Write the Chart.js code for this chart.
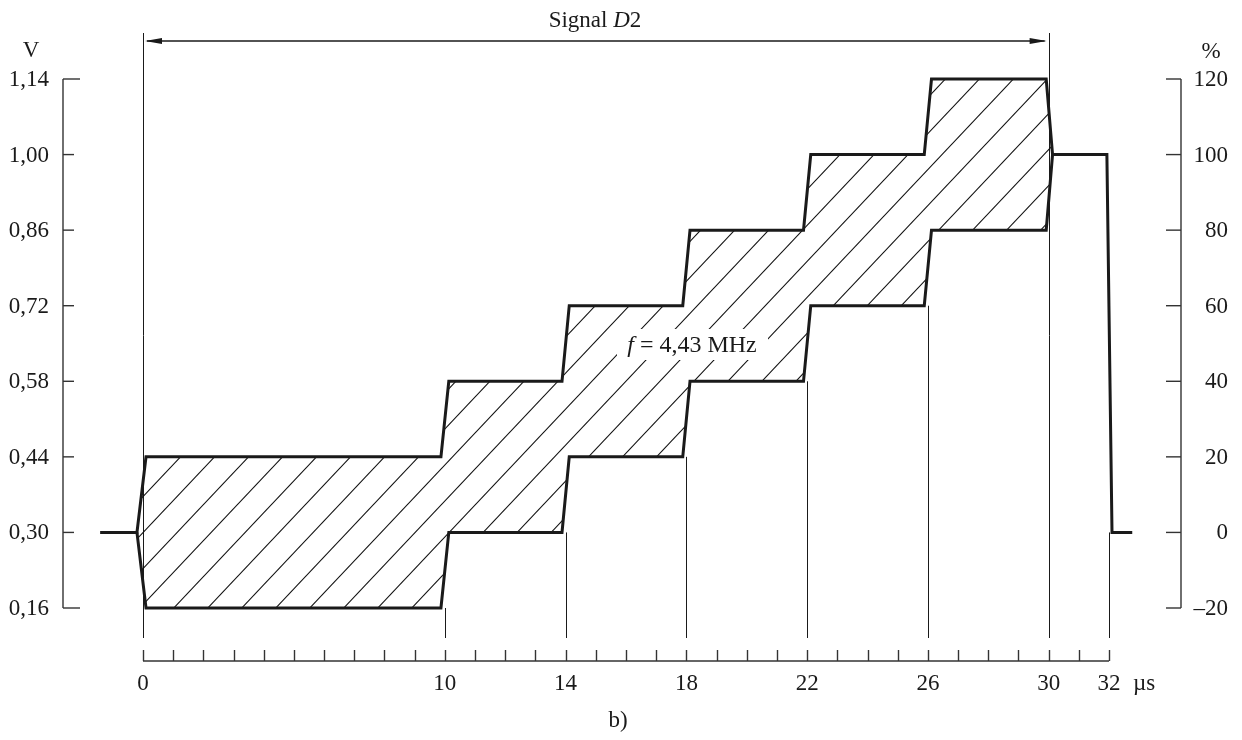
<!DOCTYPE html>
<html>
<head>
<meta charset="utf-8">
<script src="https://cdn.jsdelivr.net/npm/chart.js"></script>
<style>
  body { margin: 0; background: #fff; }
</style>
</head>
<body>
<canvas id="d2Chart" width="1242" height="740"></canvas>
<script>
// envelope of the staircase signal (time in us, level in V)
const upperT = [-1.42, -0.2, 0.1, 9.87, 10.13, 13.88, 14.12, 17.88, 18.12, 21.88, 22.12, 25.88, 26.12, 29.92, 30.13, 31.93, 32.1, 32.77];
const upperV = [0.30, 0.30, 0.44, 0.44, 0.58, 0.58, 0.72, 0.72, 0.86, 0.86, 1.00, 1.00, 1.14, 1.14, 1.00, 1.00, 0.30, 0.30];
const lowerT = [-0.2, 0.1, 9.87, 10.13, 13.88, 14.12, 17.88, 18.12, 21.88, 22.12, 25.88, 26.12, 29.92, 30.13];
const lowerV = [0.30, 0.16, 0.16, 0.30, 0.30, 0.44, 0.44, 0.58, 0.58, 0.72, 0.72, 0.86, 0.86, 1.00];

const voltTicks = [0.16, 0.30, 0.44, 0.58, 0.72, 0.86, 1.00, 1.14];
const voltLabels = ['0,16', '0,30', '0,44', '0,58', '0,72', '0,86', '1,00', '1,14'];
const pctTicks = [-20, 0, 20, 40, 60, 80, 100, 120];
const pctLabels = ['\u201320', '0', '20', '40', '60', '80', '100', '120'];
const timeLabels = [0, 10, 14, 18, 22, 26, 30, 32];
const timeEnd = 32;
const signalSpan = [0, 30];

const FONT = '"Liberation Serif", "DejaVu Serif", serif';
const INK = '#1a1a1a';

function pts(ts, vs) {
    return ts.map((t, i) => ({ x: t, y: vs[i] }));
}

// closed outline of the modulated part (upper edge, then lower edge back)
const iEnd = upperT.indexOf(lowerT[lowerT.length - 1]);
const hatchShape = pts(upperT.slice(1, iEnd + 1), upperV.slice(1, iEnd + 1))
    .concat(pts(lowerT, lowerV).reverse().slice(1));

function makeHatch() {
    const w = 34, h = 36;
    const p = document.createElement('canvas');
    p.width = w; p.height = h;
    const g = p.getContext('2d');
    g.strokeStyle = '#111';
    g.lineWidth = 1.1;
    for (const dx of [-w, 0, w]) {
        g.beginPath();
        g.moveTo(dx - w, 2 * h);
        g.lineTo(dx + 2 * w, -h);
        g.stroke();
    }
    return g.createPattern(p, 'repeat');
}

// level under a guide line: lower edge inside the signal, final level after it
function levelAt(t) {
    if (t > lowerT[lowerT.length - 1]) return upperV[upperV.length - 1];
    let v = null;
    lowerT.forEach((x, i) => { if (x <= t) v = lowerV[i]; });
    return v;
}

function richText(c, parts, cx, y, size) {
    let total = 0;
    parts.forEach(p => { c.font = p[1] + size + 'px ' + FONT; total += c.measureText(p[0]).width; });
    let tx = cx - total / 2;
    c.textAlign = 'left';
    parts.forEach(p => {
        c.font = p[1] + size + 'px ' + FONT;
        c.fillText(p[0], tx, y);
        tx += c.measureText(p[0]).width;
    });
}

const decor = {
    id: 'decor',
    beforeDatasetsDraw(chart) {
        const c = chart.ctx;
        const xs = chart.scales.x, ys = chart.scales.y;
        c.save();
        c.strokeStyle = INK;
        c.lineWidth = 1;
        const yBottom = 638;
        timeLabels.forEach(t => {
            const x = Math.round(xs.getPixelForValue(t)) + 0.5;
            const yTop = signalSpan.includes(t) ? 33 : ys.getPixelForValue(levelAt(t));
            c.beginPath();
            c.moveTo(x, yTop);
            c.lineTo(x, yBottom);
            c.stroke();
        });
        c.restore();
    },
    afterDatasetsDraw(chart) {
        const c = chart.ctx;
        const xs = chart.scales.x, ys = chart.scales.y, ps = chart.scales.y2;
        const a = chart.chartArea;
        c.save();
        c.strokeStyle = '#333';
        c.fillStyle = INK;
        c.lineWidth = 1.4;

        // left axis
        c.beginPath();
        c.moveTo(a.left, ys.getPixelForValue(voltTicks[0]));
        c.lineTo(a.left, ys.getPixelForValue(voltTicks[voltTicks.length - 1]));
        c.stroke();
        c.font = '23px ' + FONT;
        c.textAlign = 'right';
        c.textBaseline = 'middle';
        voltTicks.forEach((v, i) => {
            const y = ys.getPixelForValue(v);
            const len = (i === 0 || i === voltTicks.length - 1) ? 17 : 11;
            c.beginPath();
            c.moveTo(a.left, y);
            c.lineTo(a.left + len, y);
            c.stroke();
            c.fillText(voltLabels[i], a.left - 14, y + 1);
        });
        c.textAlign = 'center';
        c.textBaseline = 'alphabetic';
        c.fillText('V', 31, 57);

        // right axis
        c.beginPath();
        c.moveTo(a.right, ps.getPixelForValue(pctTicks[0]));
        c.lineTo(a.right, ps.getPixelForValue(pctTicks[pctTicks.length - 1]));
        c.stroke();
        c.textAlign = 'right';
        c.textBaseline = 'middle';
        pctTicks.forEach((v, i) => {
            const y = ps.getPixelForValue(v);
            c.beginPath();
            c.moveTo(a.right - 15, y);
            c.lineTo(a.right, y);
            c.stroke();
            c.fillText(pctLabels[i], a.right + 47, y + 1);
        });
        c.textAlign = 'center';
        c.textBaseline = 'alphabetic';
        c.fillText('%', 1211, 58);

        // time axis
        const yAx = 661;
        c.beginPath();
        c.moveTo(xs.getPixelForValue(0), yAx);
        c.lineTo(xs.getPixelForValue(timeEnd), yAx);
        c.stroke();
        for (let t = 0; t <= timeEnd; t++) {
            const x = Math.round(xs.getPixelForValue(t)) + 0.5;
            c.beginPath();
            c.moveTo(x, yAx - 11);
            c.lineTo(x, yAx);
            c.stroke();
        }
        timeLabels.forEach(t => {
            c.fillText(String(t), xs.getPixelForValue(t), 690);
        });
        c.textAlign = 'left';
        c.fillText('\u00b5s', 1133, 690);
        c.textAlign = 'center';
        c.fillText('b)', 618, 727);

        // Signal D2 arrow
        const x0 = xs.getPixelForValue(signalSpan[0]);
        const x1 = xs.getPixelForValue(signalSpan[1]);
        const yA = 41;
        c.strokeStyle = INK;
        c.lineWidth = 1.6;
        c.beginPath();
        c.moveTo(x0 + 4, yA);
        c.lineTo(x1 - 4, yA);
        c.stroke();
        c.beginPath();
        c.moveTo(x0 + 2, yA);
        c.lineTo(x0 + 19, yA - 3);
        c.lineTo(x0 + 19, yA + 3);
        c.closePath();
        c.fill();
        c.beginPath();
        c.moveTo(x1 - 2, yA);
        c.lineTo(x1 - 19, yA - 3);
        c.lineTo(x1 - 19, yA + 3);
        c.closePath();
        c.fill();

        richText(c, [['Signal ', ''], ['D', 'italic '], ['2', '']], 595, 27, 23);

        // carrier label on a white patch
        c.fillStyle = '#fff';
        c.fillRect(617, 329, 151, 31);
        c.fillStyle = INK;
        richText(c, [['f', 'italic '], [' = 4,43 MHz', '']], 692, 352, 24);
        c.restore();
    }
};

const ctx = document.getElementById('d2Chart').getContext('2d');
new Chart(ctx, {
    type: 'line',
    data: {
        datasets: [{
            data: pts(upperT, upperV),
            borderColor: INK,
            borderWidth: 3,
            pointRadius: 0,
            fill: false,
            clip: false
        }, {
            data: pts(lowerT, lowerV),
            borderColor: INK,
            borderWidth: 3,
            pointRadius: 0,
            fill: false,
            clip: false
        }, {
            data: hatchShape,
            borderWidth: 0,
            pointRadius: 0,
            backgroundColor: makeHatch(),
            fill: 'shape'
        }]
    },
    options: {
        responsive: false,
        animation: false,
        layout: { padding: { left: 63, right: 61, top: 79, bottom: 132 } },
        plugins: { legend: { display: false }, tooltip: { enabled: false } },
        scales: {
            x: { type: 'linear', min: -2.65, max: 34.385, display: false },
            y: { min: 0.16, max: 1.14, display: false },
            y2: { min: -20, max: 120, display: false }
        }
    },
    plugins: [decor]
});
</script>
</body>
</html>
